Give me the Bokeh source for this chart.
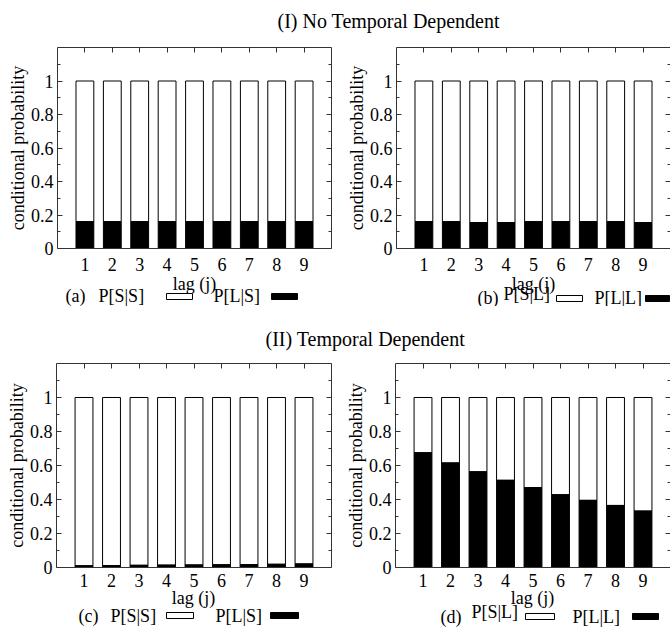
from bokeh.plotting import figure
from bokeh.models import ColumnDataSource, Range1d, FixedTicker, LinearAxis, CustomJSTickFormatter
from bokeh.layouts import column, row
from bokeh.embed import file_html
from bokeh.resources import INLINE
from bokeh.core.properties import value

# ---------------- data ----------------
lags = [1, 2, 3, 4, 5, 6, 7, 8, 9]
# (a) no temporal dependence, given S
a_LS = [0.16, 0.16, 0.16, 0.16, 0.16, 0.16, 0.16, 0.16, 0.16]
# (b) no temporal dependence, given L
b_LL = [0.16, 0.16, 0.155, 0.155, 0.16, 0.16, 0.16, 0.16, 0.155]
# (c) temporal dependence, given S
c_LS = [0.010, 0.011, 0.013, 0.014, 0.015, 0.016, 0.017, 0.019, 0.021]
# (d) temporal dependence, given L
d_LL = [0.675, 0.615, 0.563, 0.513, 0.470, 0.428, 0.395, 0.365, 0.332]

y_ticks = [0, 0.2, 0.4, 0.6, 0.8, 1.0]
y_minor = [0.1, 0.3, 0.5, 0.7, 0.9, 1.1]

titles = ["(I) No Temporal Dependent", "(II) Temporal Dependent"]
legend_ab = [("(a)", "P[S|S]", "P[L|S]"), ("(b)", "P[S|L]", "P[L|L]")]
legend_cd = [("(c)", "P[S|S]", "P[L|S]"), ("(d)", "P[S|L]", "P[L|L]")]

FONT = "Liberation Serif"
AX = "#333333"
TICK_FS = "18px"
LAB_FS = "18px"
KEY_FS = "18px"
TITLE_FS = "20px"
W = 670


def panel(black, width, height, mbl, mbr, mbt, mbb, std, right_line=True):
    p = figure(width=width, height=height, x_range=Range1d(0, 10), y_range=Range1d(0, 1.2),
               output_backend="svg", toolbar_location=None,
               min_border_left=mbl, min_border_right=mbr, min_border_top=mbt, min_border_bottom=mbb)
    p.outline_line_color = None
    p.grid.visible = False
    white = [round(1 - v, 4) for v in black]
    stack_top = [b + w for b, w in zip(black, white)]
    src = ColumnDataSource(dict(x=lags, black=black, white=white, top=stack_top))
    p.vbar(x="x", width=0.65, bottom="black", top="top", source=src,
           fill_color="white", line_color="black", line_width=1)
    p.vbar(x="x", width=0.65, bottom=0, top="black", source=src,
           fill_color="black", line_color="black", line_width=1)

    xa = p.xaxis[0]
    xa.ticker = FixedTicker(ticks=lags)
    xa.major_tick_in = 0
    xa.major_tick_out = 0
    xa.minor_tick_in = 0
    xa.minor_tick_out = 0
    xa.axis_line_color = AX
    xa.major_label_text_font = FONT
    xa.major_label_text_font_size = TICK_FS
    xa.major_label_text_color = "black"
    xa.major_label_standoff = std

    ya = p.yaxis[0]
    ya.ticker = FixedTicker(ticks=y_ticks, minor_ticks=y_minor)
    ya.formatter = CustomJSTickFormatter(code="return String(Math.round(tick*10)/10)")
    ya.major_tick_in = 5
    ya.major_tick_out = 0
    ya.minor_tick_in = 3
    ya.minor_tick_out = 0
    ya.axis_line_color = AX
    ya.major_tick_line_color = AX
    ya.minor_tick_line_color = AX
    ya.major_label_text_font = FONT
    ya.major_label_text_font_size = TICK_FS
    ya.major_label_text_color = "black"
    ya.major_label_standoff = 4
    ya.axis_label = "conditional probability"
    ya.axis_label_text_font = FONT
    ya.axis_label_text_font_size = LAB_FS
    ya.axis_label_text_font_style = "normal"
    ya.axis_label_text_color = "black"
    ya.axis_label_standoff = 0

    top = LinearAxis(ticker=FixedTicker(ticks=lags),
                     formatter=CustomJSTickFormatter(code="return ''"),
                     major_tick_in=5, major_tick_out=0, minor_tick_in=0, minor_tick_out=0,
                     major_label_text_font_size="0px", major_label_standoff=0,
                     axis_line_color=AX, major_tick_line_color=AX)
    p.add_layout(top, "above")
    right = LinearAxis(ticker=FixedTicker(ticks=y_ticks, minor_ticks=y_minor),
                       formatter=CustomJSTickFormatter(code="return ''"),
                       major_tick_in=5, major_tick_out=0, minor_tick_in=3, minor_tick_out=0,
                       major_label_text_font_size="0px", major_label_standoff=0,
                       axis_line_color=AX if right_line else None,
                       major_tick_line_color=AX, minor_tick_line_color=AX)
    p.add_layout(right, "right")
    return p


def strip(height, margin=None):
    kw = {} if margin is None else {"margin": margin}
    p = figure(width=W, height=height, x_range=Range1d(0, W), y_range=Range1d(0, height),
               output_backend="svg", toolbar_location=None,
               x_axis_location=None, y_axis_location=None, min_border=0, **kw)
    p.outline_line_color = None
    p.background_fill_color = None
    p.border_fill_color = None
    p.grid.visible = False
    return p


def add_text(p, x, y, t, align="left", size=LAB_FS):
    p.text(x=[x], y=[y], text=[t], text_font=value(FONT), text_font_size=size,
           text_align=align, text_baseline="middle", text_color="black")


def title_strip(height, x, y, t):
    p = strip(height)
    add_text(p, x, y, t, size=TITLE_FS)
    return p


def legend_strip(height, margin, lag_y, items):
    p = strip(height, margin)
    for it in items:
        lag_c, kx, ky, t1x, t1y, wb, t2x, t2y, bb, by, labs = it
        add_text(p, lag_c, lag_y, "lag (j)", align="center")
        add_text(p, kx, ky, labs[0], size=KEY_FS)
        add_text(p, t1x, t1y, labs[1], size=KEY_FS)
        add_text(p, t2x, t2y, labs[2], size=KEY_FS)
        p.quad(left=[wb[0]], right=[wb[1]], bottom=[by - 3], top=[by + 3],
               fill_color="white", line_color="black", line_width=1)
        p.quad(left=[bb[0]], right=[bb[1]], bottom=[by - 3], top=[by + 3],
               fill_color="black", line_color="black", line_width=1)
    return p


# titles
t1 = title_strip(38, 277, 18, titles[0])
t2 = title_strip(46, 265, 14, titles[1])

# panels
pa = panel(a_LS, 338, 240, 57, 7, 9, 30, 9)
pb = panel(b_LL, 332, 240, 58, 0, 9, 30, 9, right_line=False)
pc = panel(c_LS, 338, 242, 56, 7, 11, 27, 6)
pd = panel(d_LL, 332, 242, 57, 0, 11, 27, 6, right_line=False)

l1 = legend_strip(42, (-14, 0, 0, 0), 22.5, [
    (194, 65, 11, 98, 11, (166, 192), 213, 11, (271, 297), 10, legend_ab[0]),
    (533, 477, 9, 503, 12.5, (556, 582), 594, 9, (645, 669), 8, legend_ab[1]),
])
l2 = legend_strip(54, (-16, 0, 0, 0), 35, [
    (193, 78, 17, 110, 17, (166, 193), 215, 17, (270, 298), 17, legend_cd[0]),
    (532, 440, 16, 471, 21, (525, 554), 572, 16, (632, 658), 16, legend_cd[1]),
])

layout = column(t1, row(pa, pb), l1, t2, row(pc, pd), l2)

open("out.html", "w").write(file_html(layout, INLINE))
